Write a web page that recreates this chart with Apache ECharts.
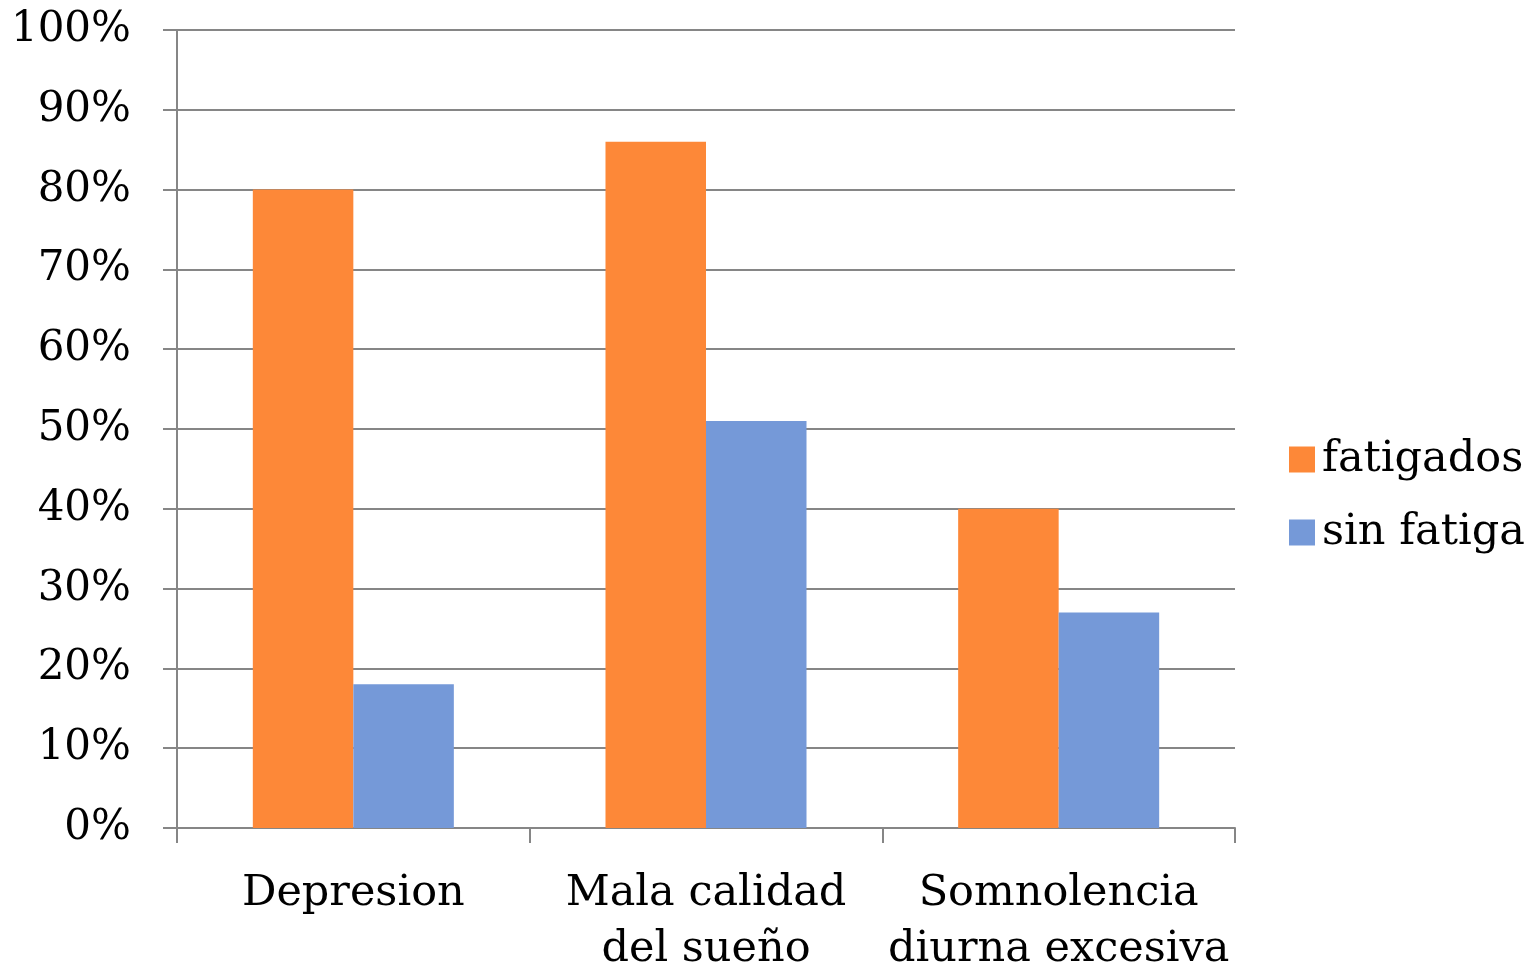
<!DOCTYPE html>
<html>
<head>
<meta charset="utf-8">
<script src="https://cdn.jsdelivr.net/npm/echarts@6/dist/echarts.min.js"></script>
<style>html,body{margin:0;padding:0;background:#fff;}#c{width:1532px;height:971px;}</style>
</head>
<body>
<div id="c"></div>
<script>
const categories = ['Depresion', 'Mala calidad\ndel sueño', 'Somnolencia\ndiurna excesiva'];
const fatigados = [80, 86, 40];
const sinFatiga = [18, 51, 27];
const seriesNames = ['fatigados', 'sin fatiga'];

const FONT = '"DejaVu Serif", "Liberation Serif", serif';
const chart = echarts.init(document.getElementById('c'));
chart.setOption({
  animation: false,
  backgroundColor: '#ffffff',
  grid: { left: 177, right: 297, top: 30, bottom: 143, containLabel: false, outerBoundsMode: 'none' },
  legend: {
    orient: 'vertical',
    left: 1284, top: 433,
    itemWidth: 26, itemHeight: 26, itemGap: 30,
    icon: 'rect',
    textStyle: { fontFamily: FONT, fontSize: 43, color: '#000', padding: [0,0,0,2] },
    data: seriesNames
  },
  xAxis: {
    type: 'category',
    data: categories,
    axisLine: { lineStyle: { color: '#868686', width: 2 } },
    axisTick: { show: true, interval: 0, length: 15, lineStyle: { color: '#868686', width: 2 } },
    axisLabel: { interval: 0, fontFamily: FONT, fontSize: 43, color: '#000', margin: 38, lineHeight: 56 }
  },
  yAxis: {
    type: 'value', min: 0, max: 100, interval: 10,
    axisLine: { show: true, lineStyle: { color: '#868686', width: 2 } },
    axisTick: { show: true, length: 14, lineStyle: { color: '#868686', width: 2 } },
    splitLine: { lineStyle: { color: '#868686', width: 2 } },
    axisLabel: { fontFamily: FONT, fontSize: 42, color: '#000', margin: 46, formatter: '{value}%' }
  },
  series: [
    { name: seriesNames[0], type: 'bar', data: fatigados, barGap: '0%', barCategoryGap: '43%', itemStyle: { color: '#FD8838' } },
    { name: seriesNames[1], type: 'bar', data: sinFatiga, barGap: '0%', barCategoryGap: '43%', itemStyle: { color: '#7599D8' } }
  ]
});
</script>
</body>
</html>
